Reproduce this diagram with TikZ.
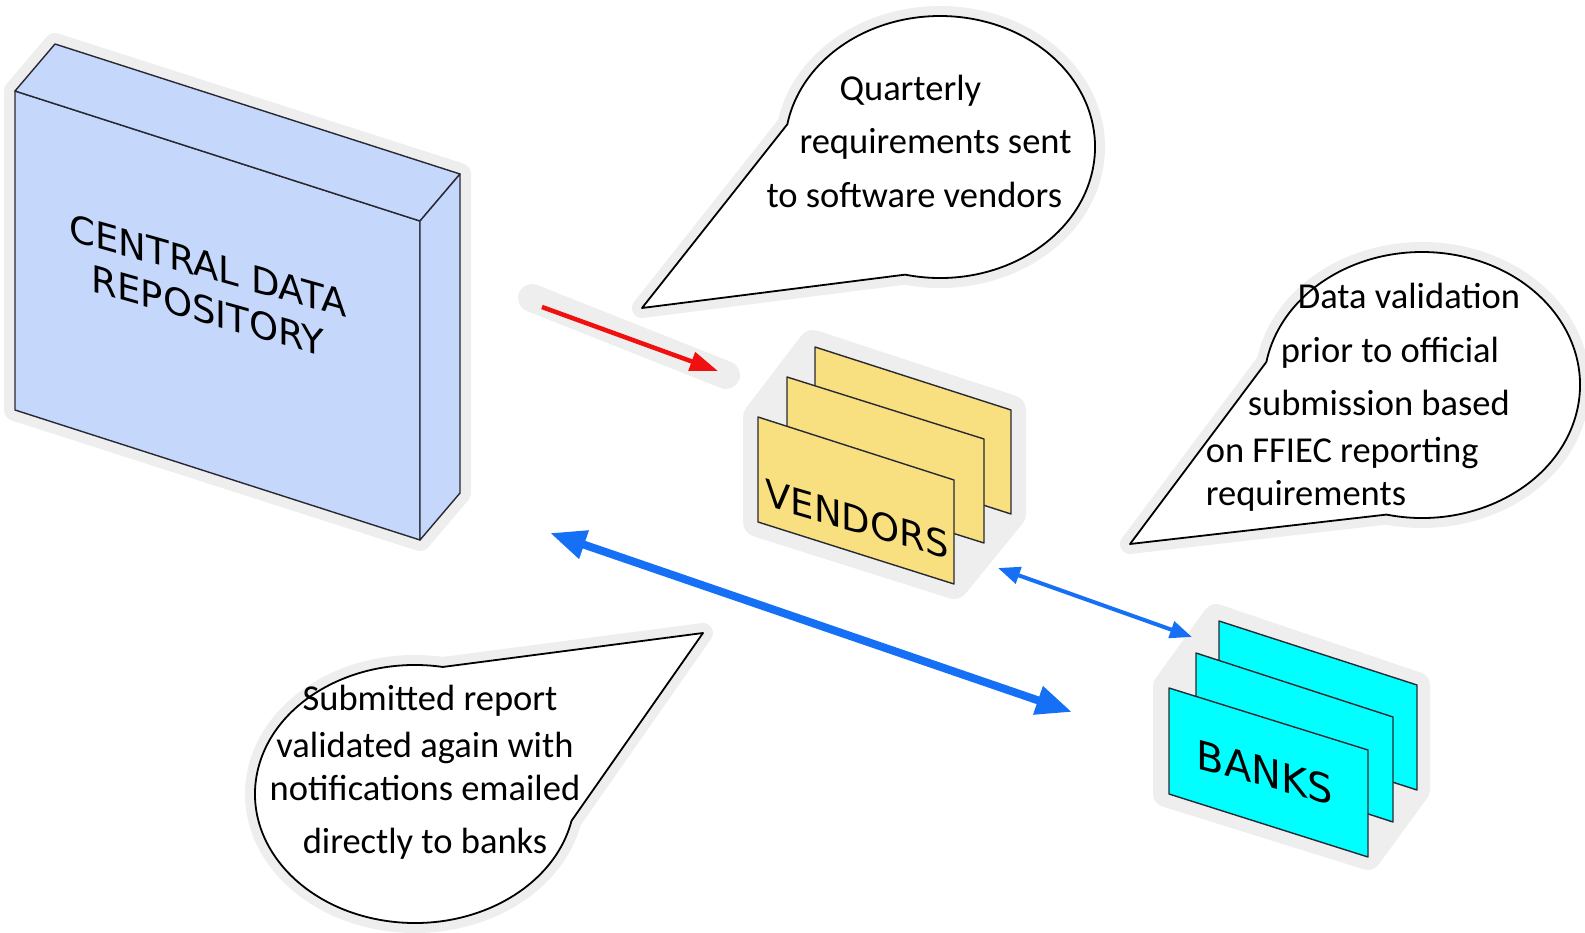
\documentclass[tikz,border=0pt]{standalone}
\usepackage{fontspec}
\setmainfont{Carlito}
\newfontfamily\boxfont{DejaVu Sans}
\usetikzlibrary{arrows.meta}
\definecolor{cdrblue}{RGB}{198,215,252}
\definecolor{vendyellow}{RGB}{248,224,128}
\definecolor{bankcyan}{RGB}{0,255,255}
\definecolor{halogray}{RGB}{238,238,238}
\definecolor{arrowblue}{RGB}{22,112,245}
\definecolor{arrowred}{RGB}{240,16,16}
\definecolor{edgecol}{RGB}{40,40,50}
\begin{document}
\begin{tikzpicture}[x=1pt,y=-1pt,
  haloshape/.style={fill=halogray,draw=halogray,line join=round,line width=#1},
  face/.style={fill=#1,draw=edgecol,line width=1.4pt,line join=round},
  bubble/.style={fill=white,draw=black,line width=1.8pt,line join=round},
  bubbletext/.style={font=\fontsize{36.5}{43}\selectfont,inner sep=0pt},
  boxlabel/.style={inner sep=0pt,font=\boxfont\fontsize{#1}{45}\selectfont},
  redarrow/.style={draw=arrowred,line width=4.5pt,-{Triangle[length=28pt,width=19pt]}},
  bigarrow/.style={draw=arrowblue,line width=8pt,{Triangle[length=36pt,width=28pt]}-{Triangle[length=36pt,width=28pt]}},
  smallarrow/.style={draw=arrowblue,line width=4pt,{Triangle[length=22pt,width=17pt]}-{Triangle[length=22pt,width=17pt]}}
]
\useasboundingbox (0,0) rectangle (1585,933);

% ---------- named points ----------
\coordinate (c1) at (940,147);
\coordinate (t1) at (642,308);
\coordinate (c2) at (1422,385);
\coordinate (t2) at (1130,544);
\coordinate (c3) at (415,794);
\coordinate (t3) at (703,633);
\coordinate (r1) at (542,307);
\coordinate (r2) at (718,371);
\coordinate (b1) at (550,533);
\coordinate (b2) at (1072,712);
\coordinate (s1) at (998,568);
\coordinate (s2) at (1192,637);

% ---------- halos ----------
\path[haloshape=22pt] (55,44) -- (460,174) -- (460,493) -- (420,540) -- (15,410) -- (15,91) -- cycle;
\path[haloshape=30pt] (813,345) -- (1011,410) -- (1011,514) -- (954,584) -- (758,522) -- (758,417) -- cycle;
\path[haloshape=26pt] (1216,617) -- (1417,685) -- (1417,790) -- (1368,857) -- (1166,794) -- (1166,686) -- cycle;
\begin{scope}[shift={(-4,-3)}]
\path[haloshape=20pt] (c1) ++(103:155 and 131) arc[start angle=103,end angle=-170,x radius=155,y radius=131] -- (t1) -- cycle;
\path[haloshape=20pt] (c2) ++(103:158 and 133) arc[start angle=103,end angle=-170,x radius=158,y radius=133] -- (t2) -- cycle;
\path[haloshape=20pt] (c3) ++(280:160 and 129) arc[start angle=280,end angle=12,x radius=160,y radius=129] -- (t3) -- cycle;
\end{scope}
\path[draw=halogray,line width=28pt,line cap=round] (532,298) -- (726,375);

% ---------- central data repository ----------
\path[face=cdrblue] (15,91) -- (420,221) -- (420,540) -- (15,410) -- cycle;
\path[face=cdrblue] (55,44) -- (460,174) -- (420,221) -- (15,91) -- cycle;
\path[face=cdrblue] (420,221) -- (460,174) -- (460,493) -- (420,540) -- cycle;
\node[boxlabel=37,yslant=-0.28,align=center] (cdr) at (208,288) {CENTRAL DATA\\REPOSITORY};

% ---------- vendors ----------
\path[face=vendyellow] (815,347) -- (1011,410) -- (1011,514) -- (815,451) -- cycle;
\path[face=vendyellow] (787,377) -- (984,439) -- (984,543) -- (787,481) -- cycle;
\path[face=vendyellow] (758,417) -- (954,480) -- (954,584) -- (758,522) -- cycle;
\node[boxlabel=37,yslant=-0.29] (vendors) at (857,519) {VENDORS};

% ---------- banks ----------
\path[face=bankcyan] (1219,621) -- (1417,685) -- (1417,790) -- (1219,726) -- cycle;
\path[face=bankcyan] (1196,653) -- (1393,717) -- (1393,822) -- (1196,758) -- cycle;
\path[face=bankcyan] (1169,688) -- (1368,750) -- (1368,857) -- (1169,794) -- cycle;
\node[boxlabel=40,yslant=-0.27] (banks) at (1265,772) {BANKS};

% ---------- speech bubbles ----------
\path[bubble] (c1) ++(103:155 and 131) arc[start angle=103,end angle=-170,x radius=155,y radius=131] -- (t1) -- cycle;
\path[bubble] (c2) ++(103:158 and 133) arc[start angle=103,end angle=-170,x radius=158,y radius=133] -- (t2) -- cycle;
\path[bubble] (c3) ++(280:160 and 129) arc[start angle=280,end angle=12,x radius=160,y radius=129] -- (t3) -- cycle;

\node[bubbletext,align=left] (q1) at (919,141)
  {\hspace*{73pt}Quarterly\\[10pt]\hspace*{33pt}requirements sent\\[11pt]to software vendors};
\node[bubbletext,align=left] (q2) at (1363,397)
  {\hspace*{92pt}Data validation\\[11pt]\hspace*{75pt}prior to official\\[10pt]\hspace*{42pt}submission based\\[4pt]on FFIEC reporting\\requirements};
\node[bubbletext,align=center] (q3) at (425,772)
  {\hspace*{10pt}Submitted report\\[4pt]validated again with\\notifications emailed\\[10pt]directly to banks};

% ---------- arrows ----------
\draw[redarrow] (r1) -- (r2);
\draw[bigarrow] (b1) -- (b2);
\draw[smallarrow] (s1) -- (s2);
\end{tikzpicture}
\end{document}
